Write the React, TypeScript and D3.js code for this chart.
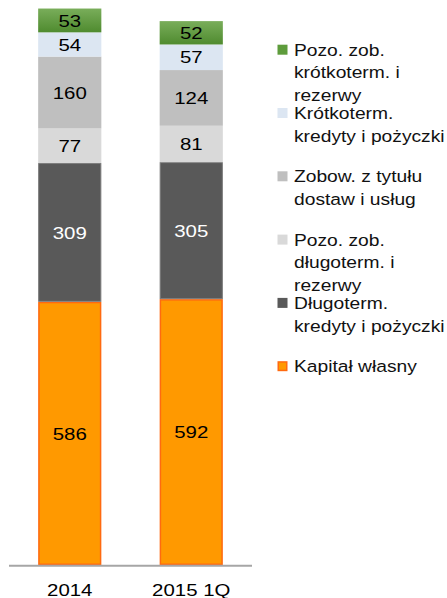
import React from 'react';
import * as d3 from 'd3';

// chart values, bottom to top
const categories = ['2014', '2015 1Q'];
const kapitalWlasny = [586, 592];
const dlugoKredyty = [309, 305];
const pozoDlugo = [77, 81];
const zobowDostaw = [160, 124];
const krotkoKredyty = [54, 57];
const pozoKrotko = [53, 52];

const seriesNames = [
  'Kapitał własny',
  'Długoterm. kredyty i pożyczki',
  'Pozo. zob. długoterm. i rezerwy',
  'Zobow. z tytułu dostaw i usług',
  'Krótkoterm. kredyty i pożyczki',
  'Pozo. zob. krótkoterm. i rezerwy',
];
const seriesValues = [kapitalWlasny, dlugoKredyty, pozoDlugo, zobowDostaw, krotkoKredyty, pozoKrotko];

// legend text, top to bottom (wrapped like the original)
const legendLines = [
  ['Pozo. zob.', 'krótkoterm. i', 'rezerwy'],
  ['Krótkoterm.', 'kredyty i pożyczki'],
  ['Zobow. z tytułu', 'dostaw i usług'],
  ['Pozo. zob.', 'długoterm. i', 'rezerwy'],
  ['Długoterm.', 'kredyty i pożyczki'],
  ['Kapitał własny'],
];

const fills = ['#ff9900', '#595959', '#d9d9d9', '#bfbfbf', '#dce6f2', 'url(#greenGrad)'];
const strokes = ['#ff6a10', '#7a7a7a', 'none', 'none', 'none', 'none'];
const labelColors = ['#000', '#fff', '#000', '#000', '#000', '#000'];
const legendFills = ['#5e9c3c', '#dce6f2', '#bfbfbf', '#d9d9d9', '#595959', '#ff9900'];
const legendStrokes = ['none', 'none', 'none', 'none', 'none', '#ff6a10'];

const W = 447;
const H = 598;
const font = '"Liberation Sans", Arial, sans-serif';
// the original text is a bit stretched sideways
const SX = 1.18;

// text drawn at (x, y) with the horizontal stretch
function Txt({ x, y, size, fill, anchor = 'start', children }: any) {
  return (
    <text transform={`translate(${x},${y}) scale(${SX},1)`} fontSize={size} fill={fill} textAnchor={anchor}>
      {children}
    </text>
  );
}

export default function App() {
  const x = d3.scaleBand<string>().domain(categories).range([9, 252]).paddingInner(0.48).paddingOuter(0.24);
  const y = d3.scaleLinear().domain([0, 1258]).range([565, 0]);

  const rows = categories.map((c, i) => {
    const r: any = { cat: c };
    seriesNames.forEach((s, k) => (r[s] = seriesValues[k][i]));
    return r;
  });
  const stacked = d3.stack<any>().keys(seriesNames)(rows);

  const legendX = 277.5;
  const legendTop = 55.7;
  const legendStep = 63.3;
  const lineH = 22.6;

  return (
    <svg width={W} height={H} style={{ position: 'absolute', left: 0, top: 0 }} fontFamily={font}>
      <defs>
        <linearGradient id="greenGrad" x1="0" y1="0" x2="0" y2="1">
          <stop offset="0" stopColor="#79ad5a" />
          <stop offset="1" stopColor="#4f8b2f" />
        </linearGradient>
      </defs>
      <rect width={W} height={H} fill="#fff" />
      {stacked.map((layer, k) => (
        <g key={layer.key}>
          {layer.map((d, i) => {
            const x0 = x(categories[i])!;
            const top = y(d[1]);
            const bot = y(d[0]);
            const sw = strokes[k] === 'none' ? 0 : k === 0 ? 1.5 : 1;
            return (
              <g key={i}>
                <rect
                  x={x0 + sw / 2}
                  y={top + sw / 2}
                  width={x.bandwidth() - sw}
                  height={bot - top - sw}
                  fill={fills[k]}
                  stroke={strokes[k]}
                  strokeWidth={sw}
                />
                <Txt x={x0 + x.bandwidth() / 2} y={(top + bot) / 2 + 6.2} size={17.3} fill={labelColors[k]} anchor="middle">
                  {seriesValues[k][i]}
                </Txt>
              </g>
            );
          })}
        </g>
      ))}
      <line x1={9} x2={252} y1={565.7} y2={565.7} stroke="#a6a6a6" strokeWidth={2} />
      {categories.map((c) => (
        <Txt key={c} x={x(c)! + x.bandwidth() / 2} y={595.5} size={17.3} fill="#000" anchor="middle">
          {c}
        </Txt>
      ))}
      {legendLines.map((lines, j) => {
        const base = legendTop + j * legendStep;
        const ls = legendStrokes[j];
        const off = ls === 'none' ? 0 : 0.75;
        return (
          <g key={j}>
            <rect
              x={legendX + off}
              y={base - 11 + off}
              width={10 - 2 * off}
              height={10 - 2 * off}
              fill={legendFills[j]}
              stroke={ls}
              strokeWidth={ls === 'none' ? 0 : 1.5}
            />
            {lines.map((t, li) => (
              <Txt key={li} x={legendX + 16.5} y={base + li * lineH} size={16.3} fill="#111">
                {t}
              </Txt>
            ))}
          </g>
        );
      })}
    </svg>
  );
}
